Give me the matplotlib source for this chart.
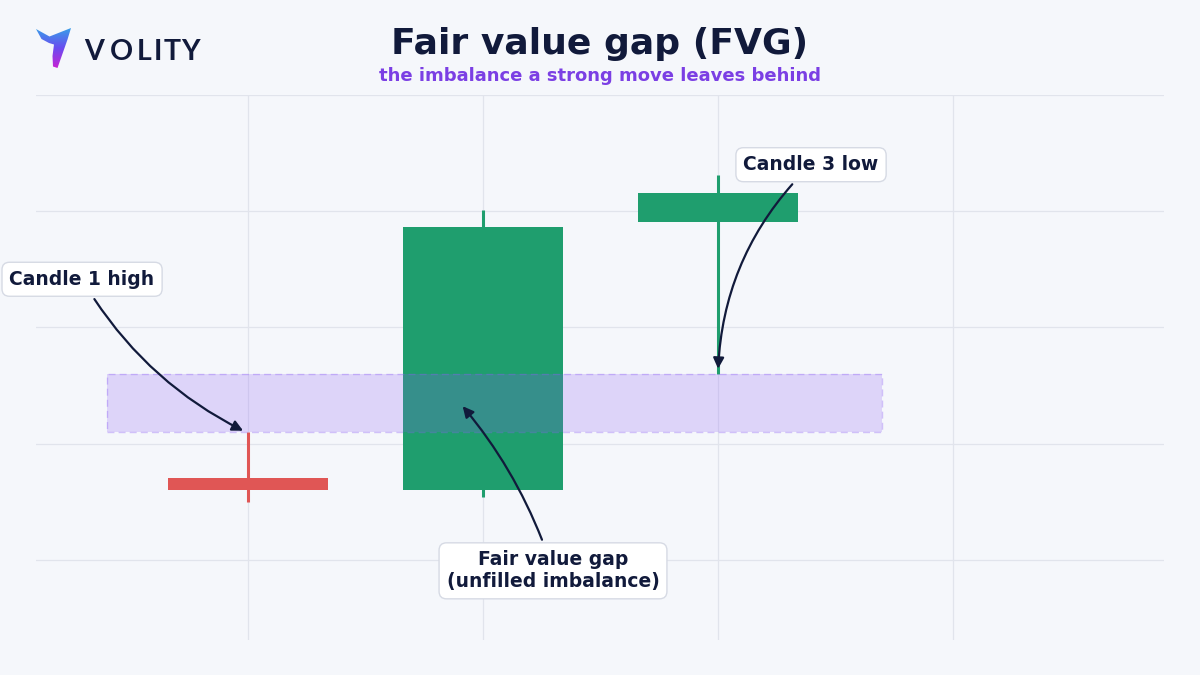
import numpy as np
import matplotlib
matplotlib.use("Agg")
import matplotlib.pyplot as plt
from matplotlib.patches import Polygon, Rectangle
from matplotlib.colors import LinearSegmentedColormap

# ---- data ----
candle_x = [1, 2, 3]
opens = [107.0, 106.0, 129.1]
closes = [106.0, 128.6, 131.6]
highs = [111.0, 130.1, 133.1]
lows = [105.0, 105.4, 116.0]
fvg_low = 111.0
fvg_high = 116.0
fvg_x0 = 0.4
fvg_x1 = 3.7

title = "Fair value gap (FVG)"
subtitle = "the imbalance a strong move leaves behind"
label_c1 = "Candle 1 high"
label_c3 = "Candle 3 low"
label_fvg = "Fair value gap\n(unfilled imbalance)"
brand = "VOLITY"

BG = "#f5f7fb"
GREEN = "#1f9e6e"
RED = "#e05655"
NAVY = "#111a3b"
PURPLE = "#7b3fe4"
VIOLET = "#8b5cf6"
GRID = "#e1e4ec"

fig = plt.figure(figsize=(12, 6.75), dpi=100, facecolor=BG)
ax = fig.add_axes([0.03, 0.0519, 0.94, 0.8074])
ax.set_facecolor(BG)
ax.set_xlim(0.098, 4.898)
ax.set_ylim(93.1, 140.0)
ax.set_xticks([1, 2, 3, 4])
ax.set_yticks([100, 110, 120, 130, 140])
ax.grid(True, color=GRID, lw=0.9)
ax.set_axisbelow(True)
ax.tick_params(length=0, labelbottom=False, labelleft=False)
for s in ax.spines.values():
    s.set_visible(False)

# candles
for x, o, c, h, l in zip(candle_x, opens, closes, highs, lows):
    col = GREEN if c >= o else RED
    ax.vlines(x, l, h, color=col, lw=2.2, zorder=2)
    ax.bar(x, abs(c - o), bottom=min(o, c), width=0.68, color=col, zorder=3)

# FVG zone
ax.add_patch(Rectangle((fvg_x0, fvg_low), fvg_x1 - fvg_x0, fvg_high - fvg_low,
                       facecolor=VIOLET, alpha=0.22, edgecolor="none", zorder=4))
ax.add_patch(Rectangle((fvg_x0, fvg_low), fvg_x1 - fvg_x0, fvg_high - fvg_low,
                       facecolor="none", edgecolor=VIOLET, alpha=0.35, lw=1.0,
                       ls=(0, (5, 3)), zorder=4))

bbox = dict(boxstyle="round,pad=0.4", fc="white", ec="#d6dae4", lw=1.0)
arrow = dict(arrowstyle="-|>", color=NAVY, lw=1.6, mutation_scale=16)

ax.annotate(label_c1, xy=(0.99, highs[0]), xytext=(0.294, 124.14),
            ha="center", va="center", fontsize=13.5, fontweight="bold", color=NAVY,
            bbox=bbox, arrowprops=dict(connectionstyle="arc3,rad=0.15", **arrow),
            zorder=6, annotation_clip=False)
ax.annotate(label_c3, xy=(3.0, lows[2] + 0.2), xytext=(3.396, 134.0),
            ha="center", va="center", fontsize=13.5, fontweight="bold", color=NAVY,
            bbox=bbox, arrowprops=dict(connectionstyle="arc3,rad=0.2", **arrow),
            zorder=6, annotation_clip=False)
ax.annotate(label_fvg, xy=(1.906, 113.4), xytext=(2.298, 99.05),
            ha="center", va="center", fontsize=13.5, fontweight="bold", color=NAVY,
            bbox=bbox, arrowprops=dict(connectionstyle="arc3,rad=0.1", **arrow),
            zorder=6, annotation_clip=False, linespacing=1.2)

# overlay for header in pixel coords
ov = fig.add_axes([0, 0, 1, 1], zorder=10)
ov.set_xlim(0, 1200)
ov.set_ylim(675, 0)
ov.axis("off")
ov.patch.set_alpha(0)

ov.text(600, 44, title, ha="center", va="center", fontsize=26,
        fontweight="bold", color=NAVY)
ov.text(600, 76, subtitle, ha="center", va="center", fontsize=13,
        fontweight="bold", color=PURPLE)

# logo mark
logo_pts = [(36, 29), (49.5, 36.5), (71, 28), (67.5, 39.5), (57.5, 68),
            (53, 66.5), (52.5, 56), (54, 44.5), (49, 43), (41.5, 39)]
poly = Polygon(logo_pts, closed=True, facecolor="none", edgecolor="none")
ov.add_patch(poly)
grad = np.linspace(0, 1, 100).reshape(-1, 1)
cmap = LinearSegmentedColormap.from_list("logo", ["#34a6e8", "#6a4cf0", "#d01fd2"])
im = ov.imshow(grad, extent=(34, 74, 70, 26), cmap=cmap, aspect="auto",
               origin="upper", zorder=11)
im.set_clip_path(poly)

letter_x = [94, 121, 144.5, 157.5, 172, 190.5]
for ch, x in zip(brand, letter_x):
    ov.text(x, 52.5, ch, ha="center", va="center", fontsize=20.5, color=NAVY,
            fontweight="bold", family=["Lato", "DejaVu Sans"])

fig.savefig("out.png", dpi=100, facecolor=BG)
